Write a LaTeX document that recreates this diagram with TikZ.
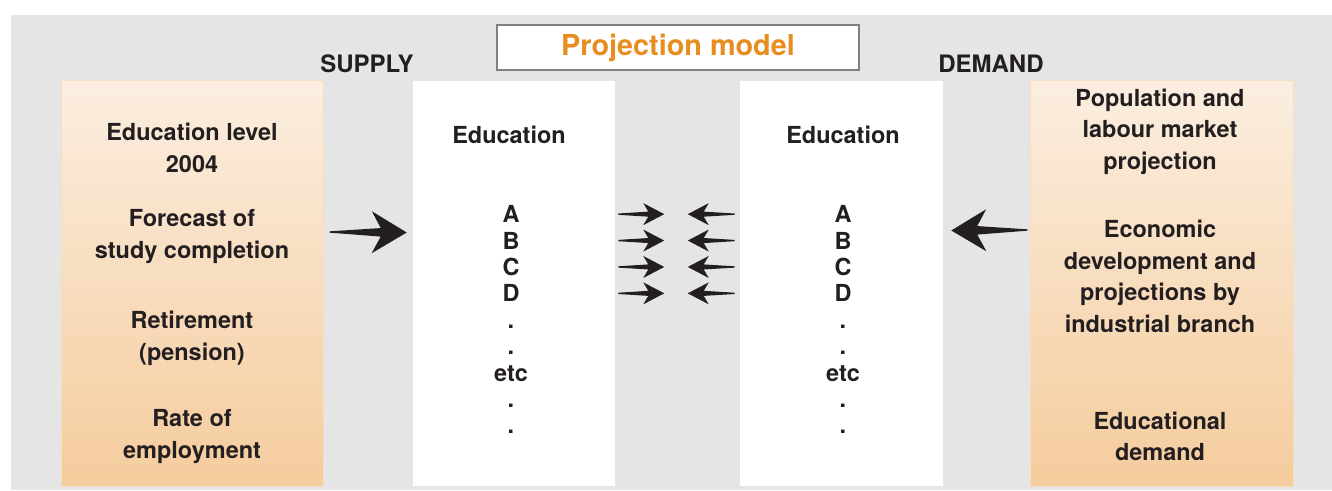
\documentclass[tikz,border=0pt]{standalone}
\usepackage{fontspec}
\setmainfont{TeX Gyre Heros}
\usetikzlibrary{calc}

\definecolor{bggrey}{RGB}{229,229,229}
\definecolor{boxtop}{RGB}{251,238,224}
\definecolor{boxbottom}{RGB}{245,204,157}
\definecolor{boxline}{RGB}{248,222,192}
\definecolor{titleorange}{RGB}{232,142,30}
\definecolor{framegrey}{RGB}{128,128,128}
\definecolor{inkdark}{RGB}{35,31,32}

\tikzset{
  fatarrow/.style n args={4}{fill=inkdark, to path={
    ($(\tikztostart)!0.5pt!90:(\tikztotarget)$)
    -- ($(\tikztotarget)!#2!(\tikztostart)!#4!-90:(\tikztostart)$)
    -- ($(\tikztotarget)!#1!(\tikztostart)!#3!-90:(\tikztostart)$)
    -- (\tikztotarget)
    -- ($(\tikztotarget)!#1!(\tikztostart)!#3!90:(\tikztostart)$)
    -- ($(\tikztotarget)!#2!(\tikztostart)!#4!90:(\tikztostart)$)
    -- ($(\tikztostart)!0.5pt!-90:(\tikztotarget)$) -- cycle}},
  bigarrow/.style={fatarrow={26.25pt}{19.5pt}{15.75pt}{3.2pt}},
  smallarrow/.style={fatarrow={15.75pt}{12pt}{8.25pt}{1.9pt}},
  orangebox/.style={draw=boxline, line width=0.75pt, top color=boxtop, bottom color=boxbottom,
    minimum height=304.5pt, inner sep=0pt},
  colbox/.style={fill=white, minimum height=303.75pt, inner sep=0pt},
  boxtext/.style={align=center, anchor=base, inner sep=0pt, text=inkdark,
    font=\fontsize{17.6}{23.6}\selectfont\bfseries},
  coltext/.style={anchor=base, inner sep=0pt, text=inkdark,
    font=\fontsize{17.6}{20}\selectfont\bfseries},
  headtext/.style={anchor=base west, inner sep=0pt, text=inkdark,
    font=\fontsize{18}{22}\selectfont\bfseries}
}

\begin{document}
\begin{tikzpicture}[x=0.75pt,y=-0.75pt]
\useasboundingbox (0,0) rectangle (1332,490);
\fill[white] (0,0) rectangle (1332,490);
%Shape: Rectangle [background]
\fill[bggrey] (11,15) rectangle (1332,490);

%Shape: Rectangle [title]
\node[draw=framegrey, line width=1.5pt, fill=white, minimum width=271.5pt, minimum height=33.75pt,
  text=titleorange, font=\fontsize{21.6}{24}\selectfont\bfseries] (title) at (678,47.5) {Projection model};

% Text Node
\node[headtext] (supply) at (320,72) {SUPPLY};
% Text Node
\node[headtext] (demand) at (938,72) {DEMAND};

%Shape: Rectangle [factors, supply side]
\node[orangebox, minimum width=196.5pt] (lbox) at (192,283) {};
%Shape: Rectangle [factors, demand side]
\node[orangebox, minimum width=197.25pt] (rbox) at (1161.5,283) {};
%Shape: Rectangle [supply column]
\node[colbox, minimum width=151.5pt] (supcol) at (514,283.5) {};
%Shape: Rectangle [demand column]
\node[colbox, minimum width=152.25pt] (demcol) at (841.5,283.5) {};

% Text Node (base = last line)
\node[boxtext] (level) at (192,172.2) {Education level\\2004};
\node[boxtext] (forecast) at (192,258.2) {Forecast of\\study completion};
\node[boxtext] (retire) at (192,360) {Retirement\\(pension)};
\node[boxtext] (employ) at (192,458.2) {Rate of\\employment};

% Text Node (base = last line)
\node[boxtext] (popul) at (1160,169) {Population and\\labour market\\projection};
\node[boxtext] (econ) at (1160,332) {Economic\\development and\\projections by\\industrial branch};
\node[boxtext] (edudem) at (1160,460.8) {Educational\\demand};

% Text Node
\node[coltext] (suphead) at (509,143) {Education};
\node[coltext] (demhead) at (843,143) {Education};
\foreach \t [count=\i] in {A,B,C,D,.,.,etc,.,.} {
  \node[coltext] (s\i) at (511,{222.7+(\i-1)*26.4}) {\t};
  \node[coltext] (d\i) at (843,{222.7+(\i-1)*26.4}) {\t};
}

%Arrows
\fill[bigarrow] ($(lbox.east)+(6,-51)$) to ($(supcol.west)+(-6,-51)$);
\fill[bigarrow] ($(rbox.west)+(-2,-53)$) to ($(demcol.east)+(8,-53)$);
\foreach \i in {1,...,4} {
  \fill[smallarrow] ($(supcol.east |- s\i)+(3,0)$) to ($(supcol.east |- s\i)+(49,0)$);
  \fill[smallarrow] ($(demcol.west |- d\i)+(-5,0)$) to ($(demcol.west |- d\i)+(-52,0)$);
}

\end{tikzpicture}
\end{document}
